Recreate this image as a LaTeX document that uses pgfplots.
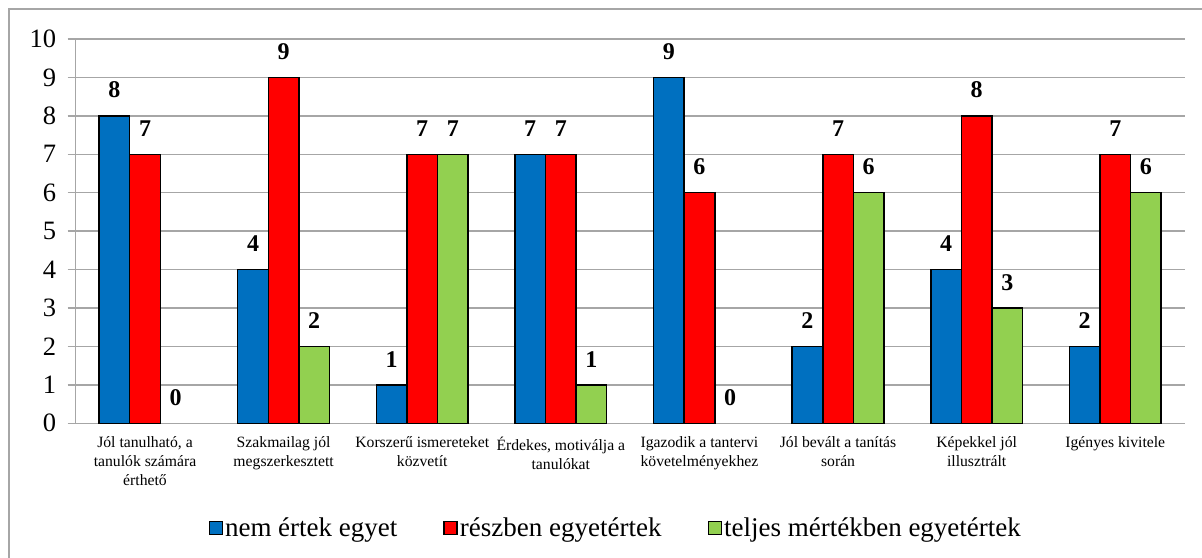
\documentclass[border=0pt]{standalone}
\usepackage{fontspec}
\setmainfont{Liberation Serif}
\usepackage{pgfplots}
\pgfplotsset{compat=1.18}

\definecolor{cblue}{HTML}{0070C0}
\definecolor{cred}{HTML}{FF0000}
\definecolor{cgreen}{HTML}{92D050}
\definecolor{gridgray}{HTML}{A6A6A6}

\begin{document}
\begin{tikzpicture}
% page = 1202 x 557, axis box south west at origin
\path[use as bounding box] (-75.7pt,-133.7pt) rectangle (1126.3pt,423.3pt);
\draw[gridgray, line width=2pt] (-66.7pt,-150pt) -- (-66.7pt,414.3pt) -- (1150pt,414.3pt);

\begin{axis}[
    at={(0,0)}, anchor=south west,
    scale only axis,
    width=1109pt, height=384.3pt,
    ybar=0pt,
    bar width=30.6pt,
    xmin=-0.5, xmax=7.5,
    ymin=0, ymax=10,
    ytick={0,1,...,10},
    xtick={0,...,7},
    xticklabels={
        {Jól tanulható, a\\tanulók számára\\érthető},
        {Szakmailag jól\\megszerkesztett},
        {Korszerű ismereteket\\közvetít},
        {Érdekes, motiválja a\\tanulókat},
        {Igazodik a tantervi\\követelményekhez},
        {Jól bevált a tanítás\\során},
        {Képekkel jól\\illusztrált},
        {Igényes kivitele}},
    minor xtick={-0.5,0.5,...,7.5},
    axis lines*=left,
    axis line style={gridgray, line width=1.4pt},
    ymajorgrids,
    grid style={gridgray, line width=1.4pt},
    tick align=outside,
    major tick length=8pt,
    minor tick length=6pt,
    xtick style={draw=none},
    minor x tick style={gridgray, line width=1.2pt},
    ytick style={gridgray, line width=1.4pt},
    /pgf/number format/assume math mode=true,
    yticklabel style={font=\rmfamily\fontsize{26.5}{30}\selectfont, xshift=-8pt},
    xticklabel style={font=\rmfamily\fontsize{15.7}{19}\selectfont, align=center, yshift=-2pt},
    nodes near coords,
    every node near coord/.append style={font=\rmfamily\fontsize{24}{28}\selectfont\bfseries, inner sep=0pt, anchor=south, yshift=17pt, black},
    legend columns=3,
    legend style={draw=none, at={(0.487,-0.2725)}, anchor=center,
        font=\rmfamily\fontsize{27}{31}\selectfont,
        /tikz/every even column/.append style={column sep=44pt}},
    legend image code/.code={\draw[#1, line width=1.5pt] (0pt,-6.5pt) rectangle (13pt,6.5pt);},
]
\addplot[bar shift=-30.6pt, draw=black, line width=1.5pt, fill=cblue] coordinates {(0,8) (1,4) (2,1) (3,7) (4,9) (5,2) (6,4) (7,2)};
\addplot[bar shift=0pt, draw=black, line width=1.5pt, fill=cred] coordinates {(0,7) (1,9) (2,7) (3,7) (4,6) (5,7) (6,8) (7,7)};
\addplot[bar shift=30.6pt, draw=black, line width=1.5pt, fill=cgreen] coordinates {(1,2) (2,7) (3,1) (5,6) (6,3) (7,6)};
% zero values of the third series: label only, no visible bar
\addplot[bar shift=30.6pt, draw=none, fill=none, forget plot] coordinates {(0,0) (4,0)};
\legend{nem értek egyet, részben egyetértek, teljes mértékben egyetértek}
\end{axis}
\end{tikzpicture}
\end{document}
